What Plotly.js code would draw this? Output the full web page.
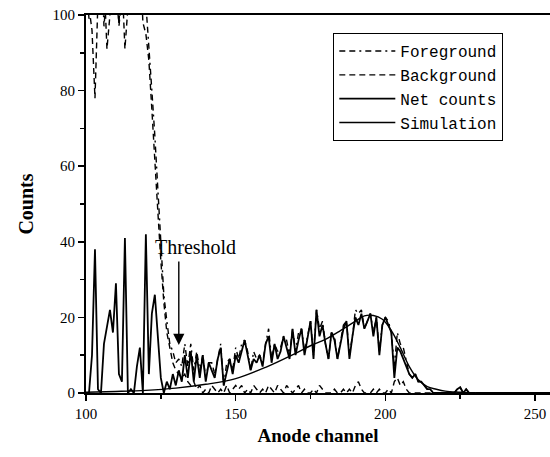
<!DOCTYPE html>
<html>
<head>
<meta charset="utf-8">
<script src="https://cdn.plot.ly/plotly-3.0.1.min.js"></script>
<style>html,body{margin:0;padding:0;background:#fff;}#chart{width:550px;height:457px;}</style>
</head>
<body>
<div id="chart"></div>
<script>
// Channels 100..230
var channels = [100,101,102,103,104,105,106,107,108,109,110,111,112,113,114,115,116,117,118,119,
120,121,122,123,124,125,126,127,128,129,130,131,132,133,134,135,136,137,138,139,
140,141,142,143,144,145,146,147,148,149,150,151,152,153,154,155,156,157,158,159,
160,161,162,163,164,165,166,167,168,169,170,171,172,173,174,175,176,177,178,179,
180,181,182,183,184,185,186,187,188,189,190,191,192,193,194,195,196,197,198,199,
200,201,202,203,204,205,206,207,208,209,210,211,212,213,214,215,216,217,218,219,
220,221,222,223,224,225,226,227,228,229,230];

var netCounts = [0,0,10,38,1,0,13,18,22,16,29,5,3,41,0,1,0,7,12,0,
42,5,21,26,15,4,0,3,1,5,2,6,3,10,4,11,3,10,4,10,
3,8,6,4,9,12,2,6,9,5,10,8,11,14,10,6,9,8,10,7,
13,15,8,13,9,11,15,12,9,17,10,14,17,10,15,19,9,22,15,18,
13,9,16,14,9,13,17,19,9,15,20,18,21,17,19,21,15,20,10,18,
20,18,16,4,12,11,9,7,5,4,5,3,3,2,1,1,0,0,0,0,
0,0,0,0,1,1.5,0,1,0,0,0];

var foreground = [110,99,104,116,112,120,97,108,115,125,118,97,105,130,112,108,120,106,125,140,
103,90,80,68,55,40,26,19,13,11,8,9,7,13,7,13,6,11,6,10,
4,8,8,5,9,13,2,8,9,6,12,9,13,14,11,6,11,9,10,8,
13,17,9,13,11,12,15,14,10,17,11,16,17,11,15,19,10,22,17,19,
13,9,16,15,9,13,18,19,10,15,22,21,22,17,19,21,16,20,11,18,
20,19,16,7,16,13,12,8,5,4,5,3,3,2,1,1,0,0,0,0,
0,0,0,0,1,1.5,0,1,0,0,0];

var background = [115,102,96,78,104,104,110,91,100,112,105,98,110,91,102,115,110,104,118,98,
95,88,75,60,48,35,24,16,12,8,6,5,4,5,3,2,3,1,2,0,
1,0,2,1,0,1,0,2,0,1,2,1,2,0,1,0,2,1,0,1,
0,2,1,0,2,1,0,2,1,0,1,2,0,1,0,0,1,0,2,1,
0,0,0,1,0,0,1,0,1,0,2,3,1,0,0,0,1,0,1,0,
0,1,0,3,4,2,3,1,0,0,0,0,0,0,0,0,0,0,0,0,
0,0,0,0,0,0,0,0,0,0,0];

var simChannels = [100,110,120,130,140,150,160,170,175,180,185,190,193,196,199,202,205,208,211,214,217,220,225,230,255];
var simulation  = [0.2,0.4,0.7,1.3,2.3,3.8,6.8,10.5,12.5,14.2,16.5,19,20.4,20.5,19.5,16.5,12,7,3.5,1.7,1,0.5,0.2,0,0];

var tailChannels = [230,255];
var tailCounts = [0,0];

var serif = "Liberation Serif, Times New Roman, serif";
var legFont = "Liberation Mono, DejaVu Sans Mono, monospace";

var traces = [
  {x: channels, y: foreground, name: "Foreground", mode: "lines",
   line: {color: "#000", width: 1.4, dash: "6px,4px,6px,4px,2px,4px"}},
  {x: channels, y: background, name: "Background", mode: "lines",
   line: {color: "#000", width: 1.4, dash: "6px,4px"}},
  {x: channels, y: netCounts, name: "Net counts", mode: "lines",
   line: {color: "#000", width: 1.8}},
  {x: simChannels, y: simulation, name: "Simulation", mode: "lines",
   line: {color: "#000", width: 1.4, shape: "spline"}},
  {x: tailChannels, y: tailCounts, mode: "lines", showlegend: false,
   line: {color: "#000", width: 1.8}}
];

var layout = {
  width: 550, height: 457,
  margin: {l: 86, r: 0, t: 15, b: 64},
  paper_bgcolor: "#fff", plot_bgcolor: "#fff",
  font: {family: serif, color: "#000", size: 15},
  showlegend: true,
  legend: {x: 0.533, y: 0.952, xanchor: "left", yanchor: "top",
    bgcolor: "#fff", bordercolor: "#000", borderwidth: 1,
    font: {family: legFont, size: 16, color: "#000"},
    tracegroupgap: 0, itemwidth: 56},
  xaxis: {range: [100, 255], showgrid: false, zeroline: false,
    showline: true, linecolor: "#000", linewidth: 2, mirror: true,
    ticks: "outside", ticklen: 6, tickwidth: 1.5, tickcolor: "#000",
    tickvals: [100,150,200,250],
    minor: {tickvals: [125,175,225], ticks: "outside", ticklen: 4, tickcolor: "#000", tickwidth: 1.5},
    tickfont: {family: serif, size: 15},
    title: {text: "<b>Anode channel</b>", font: {family: serif, size: 19}, standoff: 8}},
  yaxis: {range: [0, 100], showgrid: false, zeroline: false,
    showline: true, linecolor: "#000", linewidth: 2,
    ticks: "outside", ticklen: 6, tickwidth: 1.5, tickcolor: "#000",
    tickvals: [0,20,40,60,80,100],
    minor: {tickvals: [10,30,50,70,90], ticks: "outside", ticklen: 4, tickcolor: "#000", tickwidth: 1.5},
    tickfont: {family: serif, size: 15},
    title: {text: "<b>Counts</b>", font: {family: serif, size: 20}, standoff: 14}},
  annotations: [
    {x: 136.7, y: 38.6, xref: "x", yref: "y", text: "Threshold", showarrow: false,
     font: {family: serif, size: 20, color: "#000"}},
    {x: 131, y: 12.7, xref: "x", yref: "y", text: "", showarrow: true,
     ax: 0, ay: -85, arrowhead: 2, arrowsize: 1.6, arrowwidth: 1.4, arrowcolor: "#000"}
  ]
};

Plotly.newPlot("chart", traces, layout, {staticPlot: true, displayModeBar: false});
</script>
</body>
</html>
